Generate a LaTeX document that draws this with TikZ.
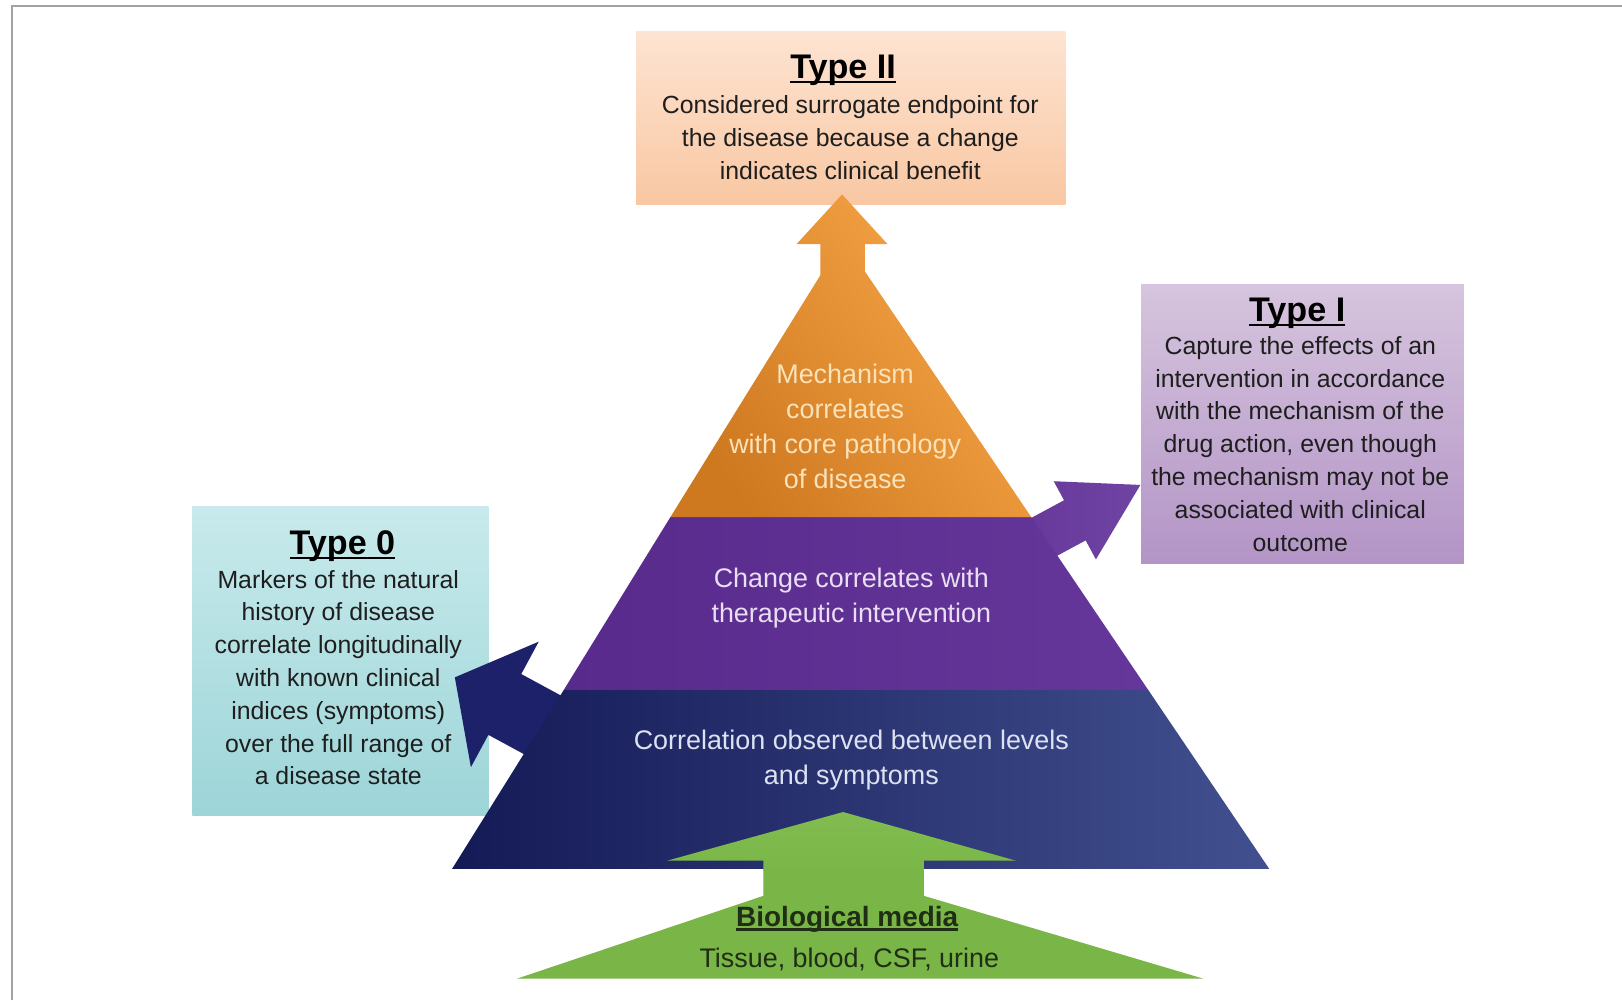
\documentclass[tikz,border=0pt]{standalone}
\usepackage{fontspec}
\setmainfont{Liberation Sans}
\definecolor{framegray}{HTML}{A2A2A2}
\definecolor{ttwotop}{HTML}{FDE4D2}
\definecolor{ttwobot}{HTML}{F9C7A2}
\definecolor{tonetop}{HTML}{D6C5DE}
\definecolor{tonebot}{HTML}{B394C6}
\definecolor{tzerotop}{HTML}{C8EAEC}
\definecolor{tzerobot}{HTML}{9DD5D8}
\definecolor{orTop}{HTML}{F8A748}
\definecolor{orMid}{HTML}{F8982A}
\definecolor{orBot}{HTML}{CE7820}
\definecolor{puL}{HTML}{582A8C}
\definecolor{puR}{HTML}{66379A}
\definecolor{puArrow}{HTML}{6E44A3}
\definecolor{nvL}{HTML}{141A56}
\definecolor{nvM}{HTML}{212A74}
\definecolor{nvR}{HTML}{42508F}
\definecolor{nvArrow}{HTML}{1C216A}
\definecolor{grn}{HTML}{7AB647}
\definecolor{grnHead}{HTML}{82BC51}
\definecolor{ortext}{HTML}{FBE2B8}
\definecolor{putext}{HTML}{E9DEF3}
\definecolor{nvtext}{HTML}{DDE2F3}
\definecolor{bodytext}{HTML}{1E1E1E}
\definecolor{grtext}{HTML}{1F2E14}
\newcommand\myul[2][2.3pt]{\setbox0=\hbox{#2}\rlap{\rule[-#1]{\wd0}{1.3pt}}\box0}
\begin{document}
\begin{tikzpicture}[x=0.5pt,y=-0.5pt,
  tbox/.style={rectangle, draw=none, inner sep=0pt},
  ttl/.style={font=\fontsize{16.5}{20}\selectfont\bfseries, text=black, inner sep=0pt},
  body/.style={font=\fontsize{12}{15.85}\selectfont, align=center, text=bodytext, inner sep=0pt},
  pyr/.style={font=\fontsize{13}{17}\selectfont, align=center, inner sep=0pt}]
\useasboundingbox (0,0) rectangle (1568,967);
\fill[white] (0,0) rectangle (1568,967);
\draw[framegray, line width=1pt] (11.6,967) -- (11.6,5.8) -- (1568,5.8);

% boxes
\node[tbox, top color=ttwotop, bottom color=ttwobot, minimum width=207.5pt, minimum height=84pt] (t2box) at (822.5,114) {};
\node[tbox, top color=tonetop, bottom color=tonebot, minimum width=156pt, minimum height=135pt] (t1box) at (1259,410) {};
\node[tbox, top color=tzerotop, bottom color=tzerobot, minimum width=143pt, minimum height=149pt] (t0box) at (329,639) {};

% navy left arrow
\fill[nvArrow] (439.7,654.8) -- (520.8,620.3) -- (503.9,651.6) -- (574.2,689.7) -- (542.4,748.5) -- (472.1,710.4) -- (455.2,741.7) -- cycle;
% navy band
\shade[left color=nvL, middle color=nvM, right color=nvR] (545,667) -- (1110,667) -- (1227,840) -- (437,840) -- cycle;
% purple right arrow
\shade[left color=puR, right color=puArrow] (1102.4,468.8) -- (1018.6,465.2) -- (1028.6,483.6) -- (975.8,512.1) -- (996.7,550.9) -- (1049.5,522.4) -- (1059.4,540.8) -- cycle;
% purple band
\shade[left color=puL, right color=puR] (648,500) -- (997,500) -- (1110,667) -- (545,667) -- cycle;
% orange top with arrow
\shade[top color=orTop, middle color=orMid, bottom color=orBot, shading angle=-55] (814,188) -- (858,236) -- (836,236) -- (836,262.2) -- (997,500) -- (648,500) -- (793,266.1) -- (793,236) -- (770,236) -- cycle;
% green base arrow
\fill[grn] (738,840) -- (893,840) -- (893,866) -- (1163,946) -- (500,946) -- (738,866) -- cycle;
\shade[top color=grnHead, bottom color=grn] (815,785) -- (982,832) -- (893,832) -- (893,842) -- (738,842) -- (738,832) -- (645,832) -- cycle;

% titles
\node[ttl, anchor=base] (t2title) at (815,76) {\myul{Type II}};
\node[ttl, anchor=base] (t1title) at (1254,311) {\myul{Type I}};
\node[ttl, anchor=base] (t0title) at (331,536) {\myul{Type 0}};

% bodies
\node[body] (t2body) at (822,133) {Considered surrogate endpoint for\\the disease because a change\\indicates clinical benefit};
\node[body] (t1body) at (1257,429) {Capture the effects of an\\intervention in accordance\\with the mechanism of the\\drug action, even though\\the mechanism may not be\\associated with clinical\\outcome};
\node[body] (t0body) at (327,655) {Markers of the natural\\history of disease\\correlate longitudinally\\with known clinical\\indices (symptoms)\\over the full range of\\a disease state};

% pyramid texts
\node[pyr, text=ortext] (ortxt) at (817,412) {Mechanism\\correlates\\with core pathology\\of disease};
\node[pyr, text=putext] (putxt) at (823,578) {Change correlates with\\therapeutic intervention};
\node[pyr, text=nvtext] (nvtxt) at (823,735) {Correlation observed between levels\\and symptoms};

% green texts
\node[font=\fontsize{13.5}{16}\selectfont\bfseries, text=grtext, inner sep=0pt, anchor=base] (biotitle) at (819,896) {\myul[2pt]{Biological media}};
\node[font=\fontsize{13}{16}\selectfont, text=grtext, inner sep=0pt] (biobody) at (821,928) {Tissue, blood, CSF, urine};
\end{tikzpicture}
\end{document}
